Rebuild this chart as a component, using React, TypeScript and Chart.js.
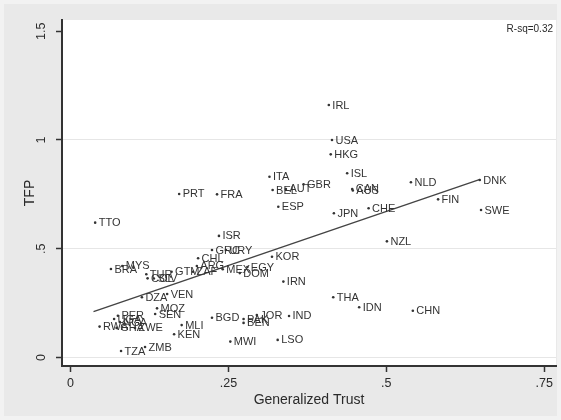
import React, { useEffect, useRef } from "react";
import { Chart, registerables } from "chart.js";

Chart.register(...registerables);

const countries = [
  "IRL", "USA", "HKG", "ISL", "CAN", "AUS", "NLD", "DNK", "FIN", "SWE",
  "JPN", "CHE", "NZL", "ITA", "BEL", "AUT", "GBR", "ESP", "PRT", "FRA",
  "TTO", "ISR", "GRC", "URY", "KOR", "CHL", "ARG", "BRA", "MYS", "TUR",
  "GTM", "ZAF", "MEX", "EGY", "DOM", "COL", "SLV", "DZA", "VEN", "MOZ",
  "SEN", "PER", "UGA", "NGA", "RWA", "GHA", "ZWE", "MLI", "KEN", "TZA",
  "ZMB", "BGD", "PAK", "BEN", "JOR", "IND", "MWI", "LSO", "IRN", "THA",
  "IDN", "CHN",
];

const trust = [
  0.409, 0.414, 0.412, 0.438, 0.446, 0.447, 0.539, 0.648, 0.582, 0.650,
  0.417, 0.472, 0.501, 0.315, 0.320, 0.341, 0.369, 0.329, 0.172, 0.232,
  0.039, 0.235, 0.224, 0.246, 0.319, 0.202, 0.200, 0.064, 0.082, 0.120,
  0.160, 0.194, 0.241, 0.280, 0.268, 0.122, 0.132, 0.113, 0.153, 0.137,
  0.134, 0.075, 0.069, 0.078, 0.046, 0.073, 0.102, 0.176, 0.164, 0.080,
  0.118, 0.224, 0.274, 0.274, 0.295, 0.346, 0.253, 0.328, 0.337, 0.416,
  0.457, 0.542,
];

const tfp = [
  1.161, 1.000, 0.934, 0.847, 0.775, 0.768, 0.806, 0.816, 0.727, 0.678,
  0.663, 0.686, 0.534, 0.831, 0.770, 0.775, 0.796, 0.693, 0.752, 0.750,
  0.620, 0.559, 0.494, 0.494, 0.463, 0.456, 0.421, 0.407, 0.421, 0.383,
  0.394, 0.394, 0.406, 0.416, 0.388, 0.364, 0.363, 0.277, 0.292, 0.226,
  0.200, 0.192, 0.177, 0.163, 0.142, 0.136, 0.136, 0.149, 0.107, 0.030,
  0.048, 0.183, 0.177, 0.159, 0.195, 0.191, 0.073, 0.081, 0.349, 0.277,
  0.231, 0.215,
];

const fitTrust = [0.0364, 0.6484];
const fitTfp = [0.2106, 0.819];

const xTicks = [0, 0.25, 0.5, 0.75];
const xTickLabels = ["0", ".25", ".5", ".75"];
const yTicks = [0, 0.5, 1, 1.5];
const yTickLabels = ["0", ".5", "1", "1.5"];
const rSqLabel = "R-sq=0.32";
const xTitle = "Generalized Trust";
const yTitle = "TFP";

const FONT = "'Liberation Sans', Arial, Helvetica, sans-serif";
const TEXT = "#2a2a2a";

export default function App() {
  const ref = useRef<HTMLCanvasElement | null>(null);

  useEffect(() => {
    document.body.style.margin = "0";
    const canvas = ref.current;
    if (!canvas) return;

    const bgPlugin = {
      id: "bgPlugin",
      beforeDraw(chart: any) {
        const { ctx, chartArea } = chart;
        ctx.save();
        ctx.fillStyle = "#f2f2f2";
        ctx.fillRect(0, 0, chart.width, chart.height);
        ctx.fillStyle = "#e9e9e9";
        ctx.fillRect(4, 4, chart.width - 8, chart.height - 8);
        ctx.fillStyle = "#ffffff";
        ctx.fillRect(
          chartArea.left,
          chartArea.top,
          chartArea.right - chartArea.left,
          chartArea.bottom - chartArea.top
        );
        ctx.restore();
      },
    };

    const labelPlugin = {
      id: "labelPlugin",
      afterDatasetsDraw(chart: any) {
        const { ctx, chartArea } = chart;
        const meta = chart.getDatasetMeta(0);
        ctx.save();
        ctx.font = `11px ${FONT}`;
        ctx.fillStyle = "#333333";
        ctx.textAlign = "left";
        ctx.textBaseline = "middle";
        meta.data.forEach((pt: any, i: number) => {
          ctx.fillText(countries[i], pt.x + 3.5, pt.y + 0.5);
        });
        // R-squared note
        ctx.font = `10px ${FONT}`;
        ctx.fillStyle = TEXT;
        ctx.textAlign = "right";
        ctx.fillText(rSqLabel, chartArea.right - 3, chartArea.top + 9);
        // rotated y tick labels
        const ys = chart.scales.y;
        ctx.font = `12.5px ${FONT}`;
        ctx.textAlign = "center";
        ctx.textBaseline = "middle";
        yTicks.forEach((v, i) => {
          const py = ys.getPixelForValue(v);
          ctx.save();
          ctx.translate(42, py);
          ctx.rotate(-Math.PI / 2);
          ctx.fillText(yTickLabels[i], 0, 0);
          ctx.restore();
        });
        ctx.restore();
      },
    };

    const chart = new Chart(canvas, {
      type: "scatter",
      data: {
        datasets: [
          {
            label: "countries",
            data: trust.map((t, i) => ({ x: t, y: tfp[i] })),
            pointRadius: 1.3,
            pointBackgroundColor: "#333333",
            pointBorderWidth: 0,
            borderWidth: 0,
          },
          {
            type: "line",
            label: "fit",
            data: fitTrust.map((t, i) => ({ x: t, y: fitTfp[i] })),
            borderColor: "#444444",
            borderWidth: 1.4,
            pointRadius: 0,
            showLine: true,
            fill: false,
          } as any,
        ],
      },
      options: {
        responsive: false,
        animation: false,
        layout: { padding: { left: 0, top: 20, right: 5, bottom: 0 } },
        plugins: {
          legend: { display: false },
          tooltip: { enabled: false },
        },
        scales: {
          x: {
            type: "linear",
            min: -0.0135,
            max: 0.7687,
            afterBuildTicks: (s: any) => {
              s.ticks = xTicks.map((v) => ({ value: v }));
            },
            afterFit: (s: any) => {
              s.height = 54;
            },
            ticks: {
              autoSkip: false,
              maxRotation: 0,
              padding: 4,
              color: TEXT,
              font: { family: FONT, size: 12.5 },
              callback: (v: any) => {
                const idx = xTicks.indexOf(Number(v));
                return idx >= 0 ? xTickLabels[idx] : "";
              },
            },
            grid: {
              drawOnChartArea: false,
              drawTicks: true,
              tickLength: 6,
              tickColor: "#333333",
              tickWidth: 1.5,
            },
            border: { display: true, color: "#333333", width: 2 },
            title: {
              display: true,
              text: xTitle,
              color: TEXT,
              font: { family: FONT, size: 14 },
              padding: { top: 0, bottom: 11 },
            },
          },
          y: {
            type: "linear",
            min: -0.0391,
            max: 1.5517,
            afterBuildTicks: (s: any) => {
              s.ticks = yTicks.map((v) => ({ value: v }));
            },
            afterFit: (s: any) => {
              s.width = 62;
            },
            ticks: {
              display: false,
            },
            grid: {
              drawOnChartArea: true,
              drawTicks: true,
              tickLength: 6,
              tickColor: "#333333",
              tickWidth: 1.5,
              lineWidth: 1,
              color: (c: any) =>
                c.tick && c.tick.value === 1.5 ? "rgba(0,0,0,0)" : "#e6e6e6",
            },
            border: { display: true, color: "#333333", width: 2 },
            title: {
              display: true,
              text: yTitle,
              color: TEXT,
              font: { family: FONT, size: 14 },
              padding: { top: 22, bottom: 0 },
            },
          },
        },
      },
      plugins: [bgPlugin, labelPlugin],
    });

    return () => {
      chart.destroy();
    };
  }, []);

  return (
    <div style={{ width: 561, height: 420 }}>
      <canvas ref={ref} width={561} height={420} style={{ display: "block" }} />
    </div>
  );
}
